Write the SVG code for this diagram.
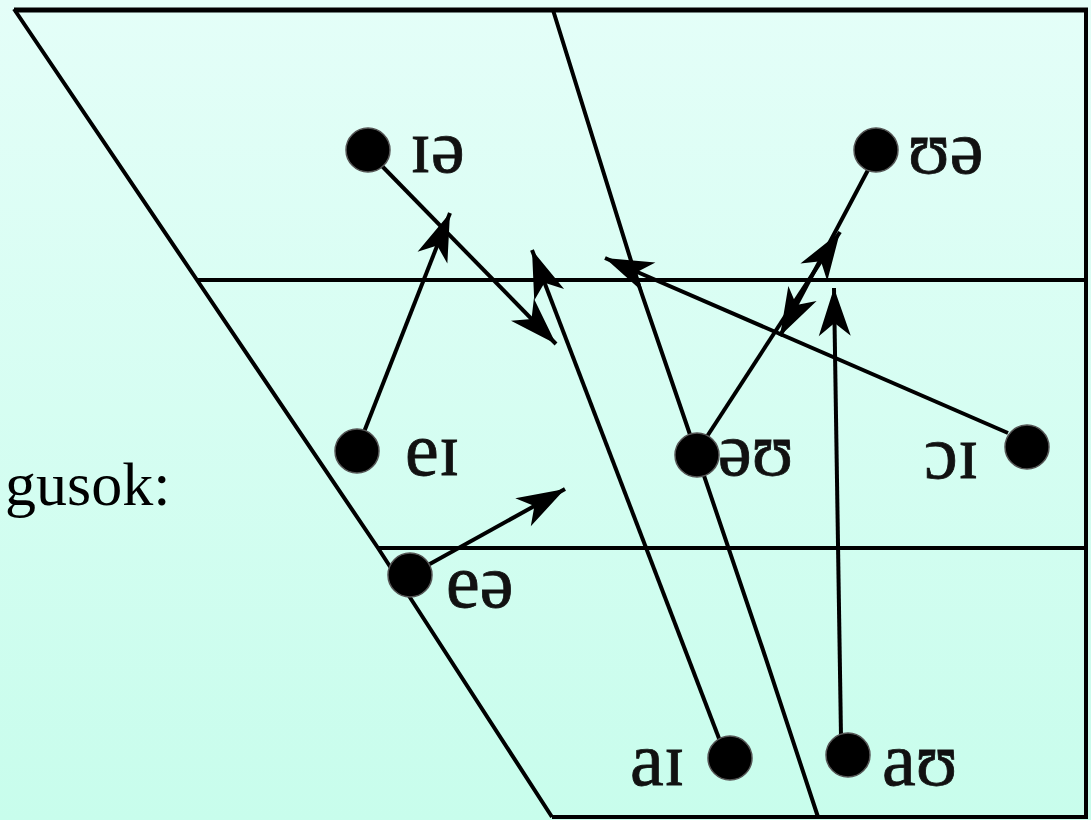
<svg xmlns="http://www.w3.org/2000/svg" width="1091" height="820" viewBox="0 0 1091 820">
  <defs>
    <linearGradient id="bg" x1="0" y1="0" x2="0" y2="1">
      <stop offset="0" stop-color="#e4fef8"/>
      <stop offset="1" stop-color="#c8fdec"/>
    </linearGradient>
    <marker id="ah" markerUnits="userSpaceOnUse" markerWidth="52" markerHeight="38" viewBox="-50 -19 52 38" refX="0" refY="0" orient="auto">
      <path d="M0,0 L-48,-16 L-35,0 L-48,16 Z" fill="#000"/>
    </marker>
    <style>
      .frame { fill: none; stroke: #000; stroke-width: 4; stroke-linejoin: miter; }
      .conn { fill: none; stroke: #000; stroke-width: 4; marker-end: url(#ah); }
      .dot { fill: #000; stroke: #555; stroke-width: 1.5; }
      .lbl { font-family: "Liberation Serif", "DejaVu Serif", serif; font-size: 76px; fill: #111; stroke: #111; stroke-width: 0.8; }
      .title { font-family: "Liberation Serif", "Times New Roman", serif; font-size: 62px; fill: #000; }
    </style>
  </defs>
  <rect x="0" y="0" width="1091" height="820" fill="url(#bg)"/>

  <text class="title" x="5" y="505">gusok:</text>

  <g id="chart">
    <line x1="14" y1="10" x2="1088" y2="10" stroke="#000" stroke-width="5"/>
    <polyline class="frame" points="14,9 197,280 378,548 552,817"/>
    <line class="frame" x1="1086" y1="9" x2="1086" y2="818"/>
    <line class="frame" x1="552" y1="817" x2="1088" y2="817"/>
    <line class="frame" x1="197" y1="280" x2="1088" y2="280"/>
    <line class="frame" x1="378" y1="548" x2="1088" y2="548"/>
    <polyline class="frame" points="553,10 637,280 697,455 763,650 818,817"/>
  </g>

  <g id="connectors">
    <line class="conn" x1="380" y1="164" x2="556" y2="344"/>
    <line class="conn" x1="364" y1="432" x2="450" y2="213"/>
    <line class="conn" x1="428" y1="565" x2="565" y2="489"/>
    <line class="conn" x1="720" y1="741" x2="532" y2="250"/>
    <line class="conn" x1="706" y1="438" x2="840" y2="232"/>
    <line class="conn" x1="868" y1="170" x2="780" y2="336"/>
    <line class="conn" x1="841" y1="736" x2="834" y2="288"/>
    <line class="conn" x1="1008" y1="433" x2="605" y2="258"/>
  </g>

  <g id="node-ie">
    <circle class="dot" cx="368" cy="150" r="22"/>
    <text class="lbl" x="410" y="172">ɪə</text>
  </g>
  <g id="node-ue">
    <circle class="dot" cx="876" cy="150" r="22"/>
    <text class="lbl" x="908" y="173">ʊə</text>
  </g>
  <g id="node-ei">
    <circle class="dot" cx="357" cy="451" r="22"/>
    <text class="lbl" x="405" y="475">eɪ</text>
  </g>
  <g id="node-eu">
    <circle class="dot" cx="697" cy="455" r="22"/>
    <text class="lbl" x="718" y="475">əʊ</text>
  </g>
  <g id="node-oi">
    <circle class="dot" cx="1027" cy="447" r="22"/>
    <text class="lbl" x="924" y="478">ɔɪ</text>
  </g>
  <g id="node-ea">
    <circle class="dot" cx="410" cy="575" r="22"/>
    <text class="lbl" x="446" y="607">eə</text>
  </g>
  <g id="node-ai">
    <circle class="dot" cx="730" cy="758" r="22"/>
    <text class="lbl" x="630" y="785">aɪ</text>
  </g>
  <g id="node-au">
    <circle class="dot" cx="848" cy="755" r="22"/>
    <text class="lbl" x="882" y="785">aʊ</text>
  </g>
</svg>
